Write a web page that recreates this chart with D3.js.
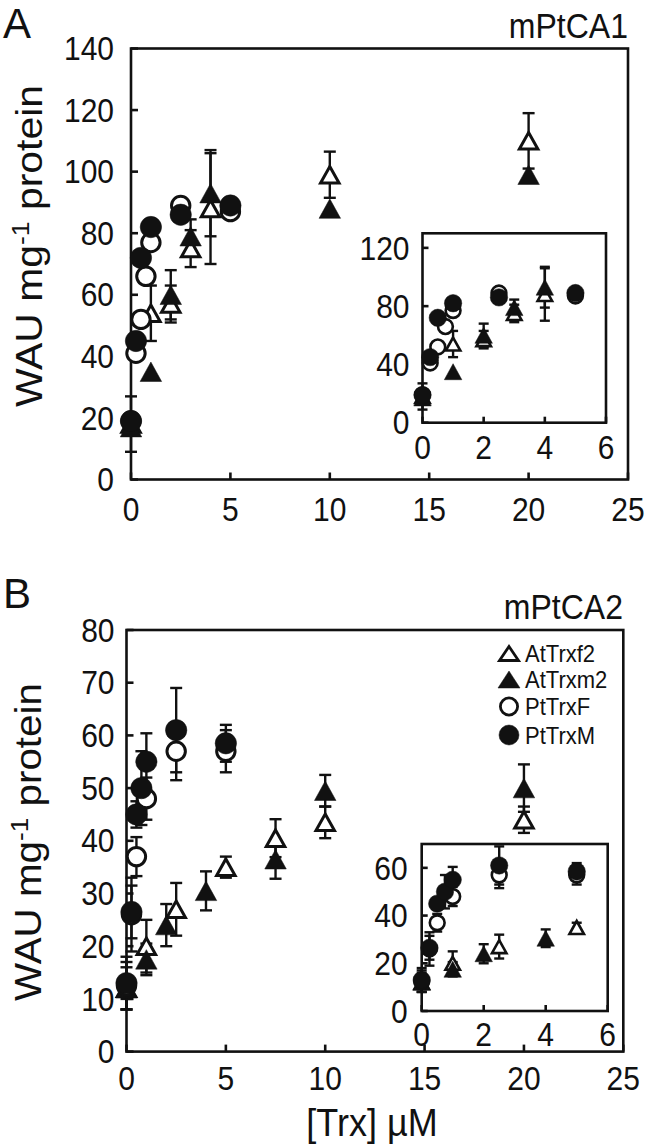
<!DOCTYPE html>
<html><head><meta charset="utf-8">
<script src="https://cdn.jsdelivr.net/npm/d3@7"></script>
<style>html,body{margin:0;padding:0;background:#fff;}svg{display:block;}</style>
</head><body>
<svg id="c" width="650" height="1146"></svg>
<script>
// ---------- data: [x (µM), WAU mg-1 protein, error] ----------
const seriesNames = ["AtTrxf2", "AtTrxm2", "PtTrxF", "PtTrxM"];

// Panel A : mPtCA1
const A_AtTrxf2 = [[0,18,9],[1,54,9],[2,57,6],[3,75,6],[4,88,18],[10,99,7.5],[20,110,9]];
const A_AtTrxm2 = [[0,17,0],[1,35,0],[2,60,8],[3,79,5.5],[4,93,14],[10,88,0],[20,99,0]];
const A_PtTrxF  = [[0,19,0],[0.25,41,0],[0.5,52,0],[0.75,66,0],[1,77,0],[2.5,89,0],[5,87,2]];
const A_PtTrxM  = [[0,19,0],[0.25,45,0],[0.5,72,0],[1,82,0],[2.5,86,0],[5,89,0]];

// Panel B : mPtCA2
const B_AtTrxf2 = [[0,12,4],[1,20,5],[2.5,27,5],[5,35,2],[7.5,40.5,3.6],[10,43.5,3],[20,44,2.5]];
const B_AtTrxm2 = [[0,12,2],[1,17.5,3],[2,24,4],[4,30.5,3.7],[7.5,36.5,3.7],[10,49.5,3],[20,50,4.5]];
const B_PtTrxF  = [[0,12.5,4.5],[0.25,26,7],[0.5,37,3.7],[1,48,4],[2.5,57,5.5],[5,57,4]];
const B_PtTrxM  = [[0,13,5],[0.25,26.5,5],[0.5,45,2.5],[0.75,50,7],[1,55,5.4],[2.5,61,8],[5,58.5,3.5]];

// tick labels
const mainXTicks = [0,5,10,15,20,25];
const insetXTicks = [0,2,4,6];
const A_mainYTicks = [0,20,40,60,80,100,120,140];
const A_insetYTicks = [0,40,80,120];
const B_mainYTicks = [0,10,20,30,40,50,60,70,80];
const B_insetYTicks = [0,20,40,60];

const panelLetters = ["A","B"];
const panelTitles = ["mPtCA1","mPtCA2"];
const yTitle = ["WAU mg", "-1", " protein"];
const xTitle = "[Trx] µM";

// ---------- drawing ----------
const svg = d3.select("#c");
const FONT = "'Liberation Sans', Arial, Helvetica, sans-serif";
const INK = "#111";
const SY = 1.08;   // glyphs in the figure are slightly taller than Arial

function label(parent, x, y, str, size, anchor, dy, sy) {
  return parent.append("text")
    .attr("transform", `translate(${x},${y}) scale(1,${sy || SY})`)
    .attr("dy", dy || null)
    .attr("text-anchor", anchor || "start")
    .attr("font-family", FONT).attr("font-size", size).attr("fill", INK).text(str);
}

function marker(g, type, cx, cy, sz) {
  const filled = (type === "AtTrxm2" || type === "PtTrxM");
  if (type === "AtTrxf2" || type === "AtTrxm2") {
    const w = filled ? sz.tw : sz.tw - 3, h = filled ? sz.th : sz.th - 3;
    const p = `M${cx},${cy - h/2}L${cx + w/2},${cy + h/2}L${cx - w/2},${cy + h/2}Z`;
    g.append("path").attr("d", p)
      .attr("fill", filled ? INK : "#fff")
      .attr("stroke", INK).attr("stroke-width", filled ? 0.5 : sz.sw)
      .attr("stroke-linejoin", "miter");
  } else {
    g.append("circle").attr("cx", cx).attr("cy", cy)
      .attr("r", filled ? sz.r : sz.r - sz.sw/2)
      .attr("fill", filled ? INK : "#fff")
      .attr("stroke", INK).attr("stroke-width", filled ? 0.5 : sz.sw);
  }
}

function plot(cfg, data) {
  const x = d3.scaleLinear().domain(cfg.xDom).range([cfg.left, cfg.right]);
  const y = d3.scaleLinear().domain(cfg.yDom).range([cfg.bottom, cfg.top]);
  const g = svg.append("g");
  // frame
  g.append("rect").attr("x", cfg.left).attr("y", cfg.top)
    .attr("width", cfg.right - cfg.left).attr("height", cfg.bottom - cfg.top)
    .attr("fill", "#fff").attr("stroke", INK).attr("stroke-width", cfg.aw);
  // ticks
  cfg.yTicks.forEach(t => {
    g.append("line").attr("x1", cfg.left).attr("x2", cfg.left + cfg.tl)
      .attr("y1", y(t)).attr("y2", y(t)).attr("stroke", INK).attr("stroke-width", cfg.aw);
    label(g, cfg.left - cfg.ylGap, y(t), t, cfg.fs, "end", "0.36em");
  });
  cfg.xTicks.forEach(t => {
    g.append("line").attr("x1", x(t)).attr("x2", x(t))
      .attr("y1", cfg.bottom).attr("y2", cfg.bottom - cfg.tl).attr("stroke", INK).attr("stroke-width", cfg.aw);
    label(g, x(t), cfg.bottom + cfg.xlGap, t, cfg.fs, "middle");
  });
  // error bars
  const eg = g.append("g");
  data.forEach(s => s.pts.forEach(([vx, vy, e]) => {
    if (!e || vx > cfg.xDom[1]) return;
    const cx = x(vx);
    eg.append("line").attr("x1", cx).attr("x2", cx).attr("y1", y(vy - e)).attr("y2", y(vy + e))
      .attr("stroke", INK).attr("stroke-width", cfg.ew);
    [vy - e, vy + e].forEach(v => eg.append("line")
      .attr("x1", cx - cfg.cap/2).attr("x2", cx + cfg.cap/2).attr("y1", y(v)).attr("y2", y(v))
      .attr("stroke", INK).attr("stroke-width", cfg.ew));
  }));
  // markers
  const mg = g.append("g");
  data.forEach(s => s.pts.forEach(([vx, vy]) => {
    if (vx > cfg.xDom[1]) return;
    marker(mg, s.name, x(vx), y(vy), cfg.sz);
  }));
}

function yAxisTitle(xBase, cy, len) {
  const t = svg.append("text").attr("font-family", FONT).attr("font-size", 37)
    .attr("text-anchor", "middle").attr("fill", INK);
  t.append("tspan").text(yTitle[0]);
  t.append("tspan").attr("font-size", 24).attr("dy", -13).text(yTitle[1]);
  t.append("tspan").attr("dy", 13).text(yTitle[2]);
  const L = t.node().getComputedTextLength();
  const s = len / L;
  t.attr("transform", `translate(${xBase},${cy}) rotate(-90) scale(${s},1)`);
}

const mainSz = {r: 10.7, tw: 21.5, th: 19.5, sw: 3};
const insetSz = {r: 8.7, tw: 17.5, th: 16, sw: 2.6};

const dataA = [
  {name: "AtTrxf2", pts: A_AtTrxf2}, {name: "AtTrxm2", pts: A_AtTrxm2},
  {name: "PtTrxF", pts: A_PtTrxF}, {name: "PtTrxM", pts: A_PtTrxM}];
const dataB = [
  {name: "AtTrxf2", pts: B_AtTrxf2}, {name: "AtTrxm2", pts: B_AtTrxm2},
  {name: "PtTrxF", pts: B_PtTrxF}, {name: "PtTrxM", pts: B_PtTrxM}];

const common = {fs: 30, aw: 2.6, ew: 2.4};
plot(Object.assign({left: 131, right: 628, top: 48.5, bottom: 479.5, xDom: [0,25], yDom: [0,140],
  xTicks: mainXTicks, yTicks: A_mainYTicks, tl: 7, ylGap: 17, xlGap: 41, cap: 12, sz: mainSz}, common), dataA);
plot(Object.assign({left: 422.5, right: 606, top: 233.3, bottom: 422.7, xDom: [0,6], yDom: [0,130],
  xTicks: insetXTicks, yTicks: A_insetYTicks, tl: 6, ylGap: 13, xlGap: 36, cap: 10, sz: insetSz}, common), dataA);
plot(Object.assign({left: 126.5, right: 623.3, top: 630, bottom: 1051.6, xDom: [0,25], yDom: [0,80],
  xTicks: mainXTicks, yTicks: B_mainYTicks, tl: 7, ylGap: 12, xlGap: 38, cap: 12, sz: mainSz}, common), dataB);
plot(Object.assign({left: 421.7, right: 607.7, top: 844, bottom: 1011, xDom: [0,6], yDom: [0,70],
  xTicks: insetXTicks, yTicks: B_insetYTicks, tl: 6, ylGap: 14, xlGap: 35, cap: 10, sz: insetSz}, common), dataB);

// panel letters and titles
label(svg, 3, 38, panelLetters[0], 42, "start", null, 1);
label(svg, 3, 608, panelLetters[1], 42, "start", null, 1);
label(svg, 628, 38, panelTitles[0], 32, "end");
label(svg, 623, 619, panelTitles[1], 32, "end");

yAxisTitle(42, 246, 322);
yAxisTitle(41, 842, 318);

label(svg, 372, 1136, xTitle, 36, "middle");

// legend (panel B)
const legY = [653.5, 679.5, 706.5, 735];
const legSz = {r: 10, tw: 22, th: 17, sw: 2.8};
const lg = svg.append("g");
seriesNames.forEach((n, i) => {
  marker(lg, n, 509, legY[i], legSz);
  label(lg, 525, legY[i], n, 22, "start", "0.36em");
});
</script>
</body></html>
